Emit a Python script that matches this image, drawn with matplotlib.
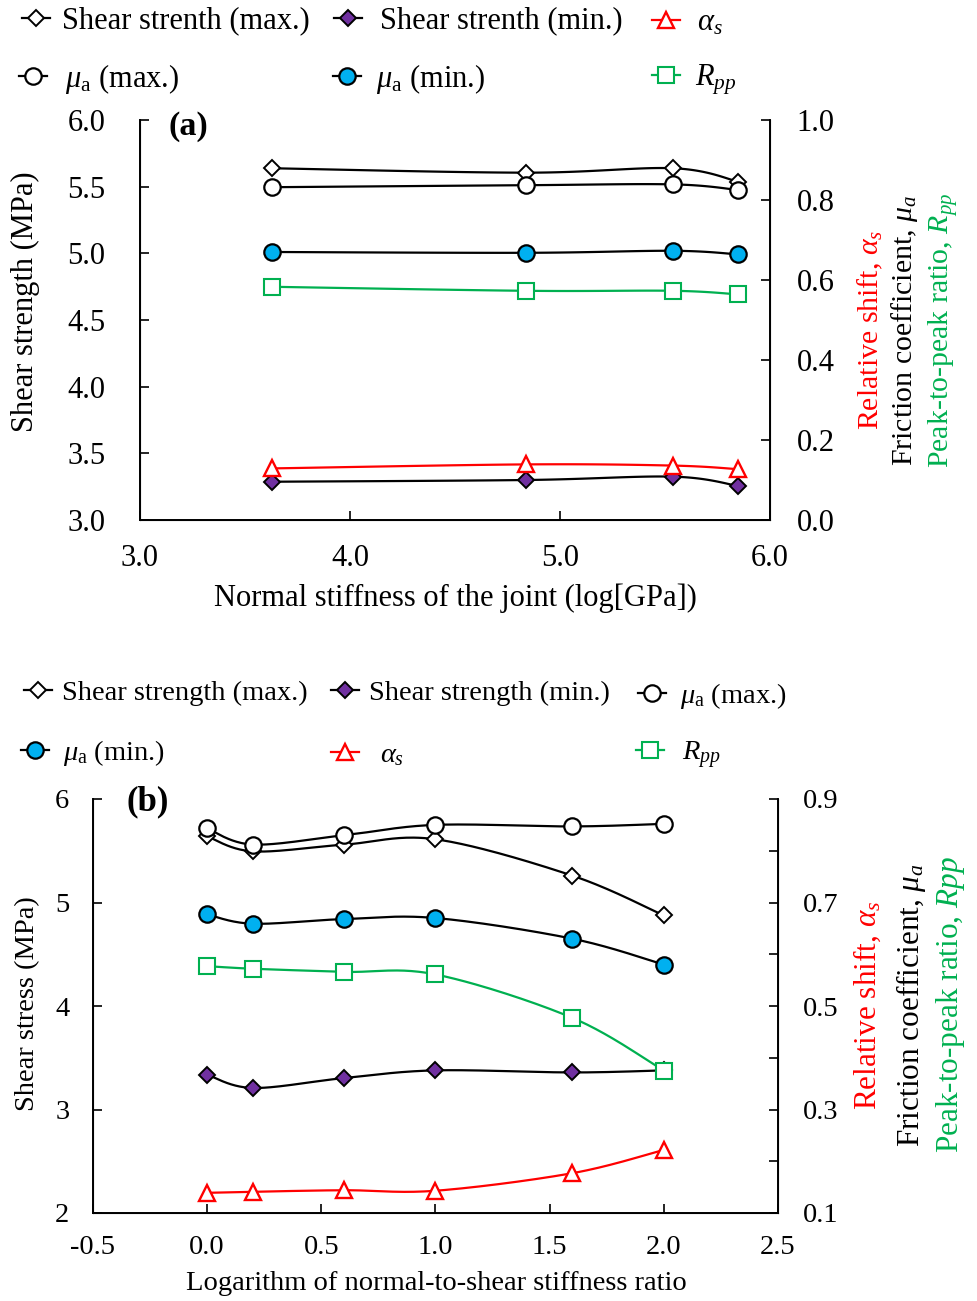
import numpy as np
import matplotlib
matplotlib.use("Agg")
import matplotlib.pyplot as plt
from matplotlib.lines import Line2D
from matplotlib.ticker import FixedLocator, FormatStrFormatter

plt.rcParams.update({
    "font.family": ["Liberation Serif", "DejaVu Serif"],
    "mathtext.fontset": "custom",
    "mathtext.rm": "Liberation Serif",
    "mathtext.it": "Liberation Serif:italic",
    "mathtext.bf": "Liberation Serif:bold",
})

# ---------------- data: panel (a) ----------------
kn_log = [3.63, 4.84, 5.54, 5.85]
shear_max_a = [5.638, 5.605, 5.638, 5.537]
shear_min_a = [3.287, 3.300, 3.325, 3.255]
mu_max_a = [0.832, 0.837, 0.839, 0.825]
mu_min_a = [0.670, 0.668, 0.673, 0.664]
alpha_a = [0.129, 0.139, 0.136, 0.127]
rpp_a = [0.583, 0.573, 0.573, 0.564]

# ---------------- data: panel (b) ----------------
ratio_log = [0.0, 0.2, 0.6, 1.0, 1.6, 2.0]
shear_max_b = [5.639, 5.494, 5.559, 5.611, 5.259, 4.875]
shear_min_b = [3.336, 3.208, 3.304, 3.378, 3.358, 3.378]
mu_max_b = [0.843, 0.812, 0.830, 0.850, 0.847, 0.852]
mu_min_b = [0.677, 0.659, 0.668, 0.670, 0.630, 0.580]
alpha_b = [0.139, 0.141, 0.144, 0.143, 0.177, 0.222]
rpp_b = [0.577, 0.572, 0.566, 0.561, 0.477, 0.375]

# ---------------- styles ----------------
PURPLE = "#7030A0"
BLUE = "#00B0F0"
RED = "#FF0000"
GREEN = "#00B050"

STY = {
    "shear_max": dict(color="black", marker="D", mfc="white", mec="black", ms=8.3, mew=1.4),
    "shear_min": dict(color="black", marker="D", mfc=PURPLE, mec="black", ms=8.3, mew=1.4),
    "mu_max": dict(color="black", marker="o", mfc="white", mec="black", ms=11.8, mew=1.6),
    "mu_min": dict(color="black", marker="o", mfc=BLUE, mec="black", ms=11.8, mew=1.6),
    "alpha": dict(color=RED, marker="^", mfc="white", mec=RED, ms=12, mew=1.7),
    "rpp": dict(color=GREEN, marker="s", mfc="white", mec=GREEN, ms=11, mew=1.5),
}

W, H = 978, 1301


def smooth_curve(x, y, n=40):
    """Smoothed polyline through the points (Catmull-Rom as cubic Bezier)."""
    p = np.column_stack([x, y]).astype(float)
    m = len(p)
    out = []
    t = np.linspace(0, 1, n)[:, None]
    for i in range(m - 1):
        p0 = p[i - 1] if i > 0 else p[i]
        p1, p2 = p[i], p[i + 1]
        p3 = p[i + 2] if i + 2 < m else p[i + 1]
        c1 = p1 + (p2 - p0) / 6.0
        c2 = p2 - (p3 - p1) / 6.0
        seg = ((1 - t) ** 3) * p1 + 3 * ((1 - t) ** 2) * t * c1 + 3 * (1 - t) * t ** 2 * c2 + t ** 3 * p2
        out.append(seg if i == 0 else seg[1:])
    c = np.vstack(out)
    return c[:, 0], c[:, 1]


def draw_series(ax, x, y, key):
    s = STY[key]
    xs, ys = smooth_curve(x, y)
    ax.plot(xs, ys, color=s["color"], lw=1.6, zorder=2, solid_capstyle="round")
    ax.plot(x, y, ls="none", marker=s["marker"], mfc=s["mfc"], mec=s["mec"],
            ms=s["ms"], mew=s["mew"], zorder=3)


def proxy(key):
    s = STY[key]
    return Line2D([], [], color=s["color"], lw=1.6, marker=s["marker"], mfc=s["mfc"],
                  mec=s["mec"], ms=s["ms"], mew=s["mew"])


def legend_entry(fig, key, label, cx, cy, text_x, fs):
    fs_px = fs * 100 / 72.0
    half = 14
    fig.legend([proxy(key)], [label], loc="center left",
               bbox_to_anchor=((cx - half) / W, 1 - cy / H), frameon=False,
               fontsize=fs, handlelength=2 * half / fs_px,
               handletextpad=(text_x - (cx + half)) / fs_px,
               borderpad=0, borderaxespad=0)


def style_axes(ax, ax2, fs, lpad, bpad, rpad):
    ax.spines["top"].set_visible(False)
    ax2.spines["top"].set_visible(False)
    for sp in ["left", "bottom"]:
        ax.spines[sp].set_linewidth(1.4)
    ax2.spines["right"].set_linewidth(1.4)
    ax.tick_params(axis="y", direction="in", length=6.5, width=1.2, labelsize=fs, pad=lpad)
    ax.tick_params(axis="x", direction="in", length=6.5, width=1.2, labelsize=fs, pad=bpad)
    ax2.tick_params(axis="y", which="both", direction="in", length=6.5, width=1.2,
                    labelsize=fs, pad=rpad)


fig = plt.figure(figsize=(W / 100, H / 100), dpi=100)

# ================= panel (a) =================
ax_a = fig.add_axes([140 / W, 1 - 520 / H, 630 / W, 400 / H])
ax_a2 = ax_a.twinx()
ax_a.set_xlim(3.0, 6.0)
ax_a.set_ylim(3.0, 6.0)
ax_a2.set_ylim(0.0, 1.0)
ax_a.set_xticks([3.0, 4.0, 5.0, 6.0])
ax_a.set_yticks([3.0, 3.5, 4.0, 4.5, 5.0, 5.5, 6.0])
ax_a2.set_yticks([0.0, 0.2, 0.4, 0.6, 0.8, 1.0])
for a in (ax_a.xaxis, ax_a.yaxis, ax_a2.yaxis):
    a.set_major_formatter(FormatStrFormatter("%.1f"))
style_axes(ax_a, ax_a2, 22, 25, 17, 19)

draw_series(ax_a, kn_log, shear_max_a, "shear_max")
draw_series(ax_a, kn_log, shear_min_a, "shear_min")
draw_series(ax_a2, kn_log, mu_min_a, "mu_min")
draw_series(ax_a2, kn_log, rpp_a, "rpp")
draw_series(ax_a2, kn_log, alpha_a, "alpha")
draw_series(ax_a2, kn_log, mu_max_a, "mu_max")

ax_a.set_xlabel("Normal stiffness of the joint (log[GPa])", fontsize=22)
ax_a.xaxis.set_label_coords(455 / W, 1 - 598 / H, transform=fig.transFigure)
ax_a.xaxis.label.set_va("center")
ax_a.set_ylabel("Shear strength (MPa)", fontsize=22)
ax_a.yaxis.set_label_coords(25 / W, 1 - 302 / H, transform=fig.transFigure)
ax_a.yaxis.label.set_va("center")

ax_a.text(169 / W, 1 - 127 / H, "(a)", transform=fig.transFigure, fontsize=24.5,
          fontweight="bold", ha="left", va="center")

fig.text(870 / W, 1 - 330 / H, r"Relative shift, $\alpha_s$", color=RED, fontsize=21.5,
         rotation=90, ha="center", va="center")
fig.text(905 / W, 1 - 330 / H, r"Friction coefficient, $\mu_a$", color="black", fontsize=21.5,
         rotation=90, ha="center", va="center")
fig.text(943 / W, 1 - 330 / H, r"Peak-to-peak ratio, $R_{pp}$", color=GREEN, fontsize=21.5,
         rotation=90, ha="center", va="center")

legend_entry(fig, "shear_max", "Shear strenth (max.)", 36, 21, 62, 22)
legend_entry(fig, "shear_min", "Shear strenth (min.)", 348, 21, 380, 22)
legend_entry(fig, "alpha", r"$\alpha_s$", 666, 23, 697, 22)
legend_entry(fig, "mu_max", r"$\mu_\mathrm{a}$ (max.)", 33, 79, 65, 22)
legend_entry(fig, "mu_min", r"$\mu_\mathrm{a}$ (min.)", 347, 79, 376, 22)
legend_entry(fig, "rpp", r"$R_{pp}$", 666, 80, 695, 22)

# ================= panel (b) =================
ax_b = fig.add_axes([93 / W, 1 - 1213 / H, 685 / W, 414 / H])
ax_b2 = ax_b.twinx()
ax_b.set_xlim(-0.5, 2.5)
ax_b.set_ylim(2, 6)
ax_b2.set_ylim(0.1, 0.9)
ax_b.set_xticks([-0.5, 0.0, 0.5, 1.0, 1.5, 2.0, 2.5])
ax_b.xaxis.set_major_formatter(FormatStrFormatter("%.1f"))
ax_b.set_yticks([2, 3, 4, 5, 6])
ax_b2.yaxis.set_major_locator(FixedLocator([0.1, 0.3, 0.5, 0.7, 0.9]))
ax_b2.yaxis.set_minor_locator(FixedLocator([0.2, 0.4, 0.6, 0.8]))
ax_b2.yaxis.set_major_formatter(FormatStrFormatter("%.1f"))
style_axes(ax_b, ax_b2, 20.5, 17, 16, 18)

draw_series(ax_b, ratio_log, shear_max_b, "shear_max")
draw_series(ax_b, ratio_log, shear_min_b, "shear_min")
draw_series(ax_b2, ratio_log, mu_min_b, "mu_min")
draw_series(ax_b2, ratio_log, rpp_b, "rpp")
draw_series(ax_b2, ratio_log, alpha_b, "alpha")
draw_series(ax_b2, ratio_log, mu_max_b, "mu_max")

ax_b.set_xlabel("Logarithm of normal-to-shear stiffness ratio", fontsize=20.5)
ax_b.xaxis.set_label_coords(436 / W, 1 - 1284 / H, transform=fig.transFigure)
ax_b.xaxis.label.set_va("center")
ax_b.set_ylabel("Shear stress (MPa)", fontsize=20.5)
ax_b.yaxis.set_label_coords(28 / W, 1 - 1004 / H, transform=fig.transFigure)
ax_b.yaxis.label.set_va("center")

ax_b.text(127 / W, 1 - 802 / H, "(b)", transform=fig.transFigure, fontsize=25,
          fontweight="bold", ha="left", va="center")

fig.text(867 / W, 1 - 1005 / H, r"Relative shift, $\alpha_s$", color=RED, fontsize=22.5,
         rotation=90, ha="center", va="center")
fig.text(911 / W, 1 - 1005 / H, r"Friction coefficient, $\mu_a$", color="black", fontsize=22.5,
         rotation=90, ha="center", va="center")
fig.text(951 / W, 1 - 1005 / H, r"Peak-to-peak ratio, $Rpp$", color=GREEN, fontsize=22.5,
         rotation=90, ha="center", va="center")

legend_entry(fig, "shear_max", "Shear strength (max.)", 38, 693, 62, 20.5)
legend_entry(fig, "shear_min", "Shear strength (min.)", 345, 693, 369, 20.5)
legend_entry(fig, "mu_max", r"$\mu_\mathrm{a}$ (max.)", 652, 696, 680, 20.5)
legend_entry(fig, "mu_min", r"$\mu_\mathrm{a}$ (min.)", 35, 753, 63, 20.5)
legend_entry(fig, "alpha", r"$\alpha_s$", 345, 755, 380, 20.5)
legend_entry(fig, "rpp", r"$R_{pp}$", 650, 755, 682, 20.5)

fig.savefig("out.png", dpi=100)
